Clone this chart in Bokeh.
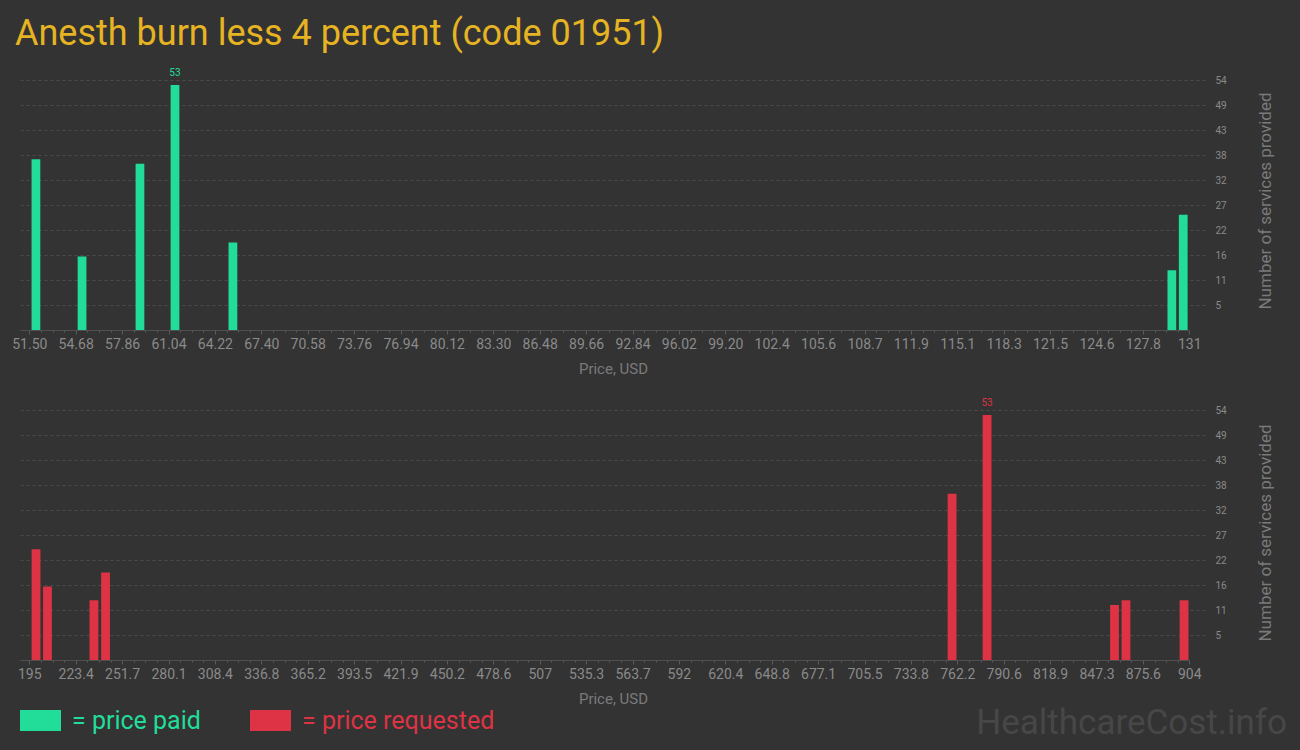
import numpy as np
from bokeh.plotting import figure
from bokeh.layouts import column, row
from bokeh.models import Range1d, FixedTicker, Div
from bokeh.core.properties import value
from bokeh.embed import file_html
from bokeh.resources import INLINE

# ---------------- data ----------------
title_text = "Anesth burn less 4 percent (code 01951)"

paid_prices = [51.92, 55.08, 59.05, 61.45, 65.42, 129.77, 130.55]
paid_counts = [37, 16, 36, 53, 19, 13, 25]

requested_prices = [198.8, 205.8, 234.2, 241.3, 758.7, 780.1, 858.0, 865.0, 900.5]
requested_counts = [24, 16, 13, 19, 36, 53, 12, 13, 13]

paid_tick_labels = ["51.50", "54.68", "57.86", "61.04", "64.22", "67.40", "70.58", "73.76",
                    "76.94", "80.12", "83.30", "86.48", "89.66", "92.84", "96.02", "99.20",
                    "102.4", "105.6", "108.7", "111.9", "115.1", "118.3", "121.5", "124.6",
                    "127.8", "131"]
requested_tick_labels = ["195", "223.4", "251.7", "280.1", "308.4", "336.8", "365.2", "393.5",
                         "421.9", "450.2", "478.6", "507", "535.3", "563.7", "592", "620.4",
                         "648.8", "677.1", "705.5", "733.8", "762.2", "790.6", "818.9", "847.3",
                         "875.6", "904"]
count_tick_labels = ["5", "11", "16", "22", "27", "32", "38", "43", "49", "54"]

x_title = "Price, USD"
y_title = "Number of services provided"
legend_paid = "= price paid"
legend_requested = "= price requested"
watermark = "HealthcareCost.info"

# ---------------- style ----------------
BG = "#333333"
GREEN = "#22dd99"
RED = "#dd3344"
GOLD = "#e6b422"
TICK_COLOR = "#8a8a8a"
AXIS_TITLE_COLOR = "#7a7a7a"
GRID_COLOR = "#4b4b4b"
AXIS_LINE = "#4f4f4f"
WATERMARK_COLOR = "#474747"
FONT = "Roboto"

count_ticks = [5.4 * (i + 1) for i in range(len(count_tick_labels))]

FIG_W = 1240
SIDE_W = 60


def make_chart(prices, counts, color, tick_labels, bar_width, height, top_border, bottom_border, label_standoff):
    lo = float(tick_labels[0])
    hi = float(tick_labels[-1])
    step = (hi - lo) / (len(tick_labels) - 1)
    px_per_unit = 1160.0 / (hi - lo)
    x_lo = lo - 9.3 / px_per_unit
    x_hi = hi + 16.7 / px_per_unit
    majors = [lo + i * step for i in range(len(tick_labels))]
    minors = [lo + (i + j / 4.0) * step for i in range(len(tick_labels) - 1) for j in range(1, 4)]

    p = figure(width=FIG_W, height=height, output_backend="svg", toolbar_location=None,
               x_range=Range1d(x_lo, x_hi), y_range=Range1d(0, 57),
               y_axis_location="right",
               background_fill_color=BG, border_fill_color=BG, outline_line_color=None,
               min_border_left=20, min_border_right=34,
               min_border_top=top_border, min_border_bottom=bottom_border)

    p.vbar(x=prices, top=counts, width=bar_width, bottom=0, fill_color=color, line_color=None)

    imax = int(np.argmax(counts))
    p.text(x=[prices[imax]], y=[counts[imax]], text=[str(counts[imax])],
           text_color=color, text_font=value(FONT), text_font_size="10px",
           text_align="center", text_baseline="bottom", y_offset=-9)

    xa = p.xaxis[0]
    xa.ticker = FixedTicker(ticks=majors, minor_ticks=minors)
    xa.major_label_overrides = {m: l for m, l in zip(majors, tick_labels)}
    xa.bounds = (x_lo, hi)
    xa.axis_line_color = AXIS_LINE
    xa.major_tick_line_color = "#5a5a5a"
    xa.minor_tick_line_color = "#5a5a5a"
    xa.major_tick_in = 0
    xa.major_tick_out = 4
    xa.minor_tick_in = 0
    xa.minor_tick_out = 2
    xa.major_label_standoff = 3
    xa.major_label_text_font = FONT
    xa.major_label_text_font_size = "14px"
    xa.major_label_text_color = TICK_COLOR
    xa.axis_label = x_title
    xa.axis_label_text_font = FONT
    xa.axis_label_text_font_size = "15px"
    xa.axis_label_text_font_style = "normal"
    xa.axis_label_text_color = AXIS_TITLE_COLOR
    xa.axis_label_standoff = label_standoff

    ya = p.yaxis[0]
    ya.ticker = FixedTicker(ticks=count_ticks, minor_ticks=[])
    ya.major_label_overrides = {t: l for t, l in zip(count_ticks, count_tick_labels)}
    ya.axis_line_color = None
    ya.major_tick_line_color = None
    ya.minor_tick_line_color = None
    ya.major_label_standoff = 3
    ya.major_label_text_font = FONT
    ya.major_label_text_font_size = "10px"
    ya.major_label_text_color = TICK_COLOR

    p.xgrid.visible = False
    p.ygrid.ticker = FixedTicker(ticks=count_ticks, minor_ticks=[])
    p.ygrid.grid_line_color = GRID_COLOR
    p.ygrid.grid_line_dash = "3 3"
    p.ygrid.grid_line_width = 1
    return p


def side_title(height, center_y):
    html = (
        f'<div style="position:relative;width:{SIDE_W}px;height:{height}px;background:{BG};overflow:visible;">'
        f'<span style="position:absolute;left:25px;top:{center_y}px;transform:translate(-50%,-50%) rotate(-90deg);'
        f'font-family:{FONT};font-size:17px;line-height:17px;color:{AXIS_TITLE_COLOR};white-space:nowrap;">'
        f'{y_title}</span></div>'
    )
    return Div(text=html, width=SIDE_W, height=height,
               styles={"background-color": BG, "margin": "0", "padding": "0"})


# ---------------- header ----------------
header_html = (
    f'<div style="position:relative;width:1300px;height:60px;background:{BG};">'
    f'<span style="position:absolute;left:15px;top:15px;font-family:{FONT};font-size:36px;'
    f'line-height:36px;color:{GOLD};white-space:nowrap;">{title_text}</span></div>'
)
header = Div(text=header_html, width=1300, height=60, styles={"background-color": BG, "margin": "0", "padding": "0"})

top = make_chart(paid_prices, paid_counts, GREEN, paid_tick_labels, 0.6,
                 height=326, top_border=6, bottom_border=56, label_standoff=8)
bottom = make_chart(requested_prices, requested_counts, RED, requested_tick_labels, 5.4,
                    height=324, top_border=10, bottom_border=50, label_standoff=8)

top_row = row(top, side_title(326, 141), spacing=0)
bottom_row = row(bottom, side_title(324, 147), spacing=0)

# ---------------- legend row ----------------
legend_html = (
    f'<div style="position:relative;width:1300px;height:40px;background:{BG};">'
    f'<span style="position:absolute;left:20px;top:0px;width:41px;height:21px;background:{GREEN};"></span>'
    f'<span style="position:absolute;left:72px;top:0px;font-family:{FONT};font-size:25px;line-height:21px;'
    f'color:{GREEN};white-space:nowrap;">{legend_paid}</span>'
    f'<span style="position:absolute;left:250px;top:0px;width:41px;height:21px;background:{RED};"></span>'
    f'<span style="position:absolute;left:302px;top:0px;font-family:{FONT};font-size:25px;line-height:21px;'
    f'color:{RED};white-space:nowrap;">{legend_requested}</span>'
    f'<span style="position:absolute;right:13px;top:0px;font-family:{FONT};font-size:35px;line-height:26px;'
    f'color:{WATERMARK_COLOR};white-space:nowrap;">{watermark}</span>'
    f'</div>'
)
legend = Div(text=legend_html, width=1300, height=40, styles={"background-color": BG, "margin": "0", "padding": "0"})

layout = column(header, top_row, bottom_row, legend, spacing=0)
layout.styles = {"background-color": BG}

html = file_html(layout, INLINE, title="Anesth burn less 4 percent (code 01951)")
html = html.replace("<head>", "<head>\n<style>html, body { margin: 0 !important; padding: 0; background: #333333; overflow: hidden; }</style>", 1)
open("out.html", "w").write(html)
